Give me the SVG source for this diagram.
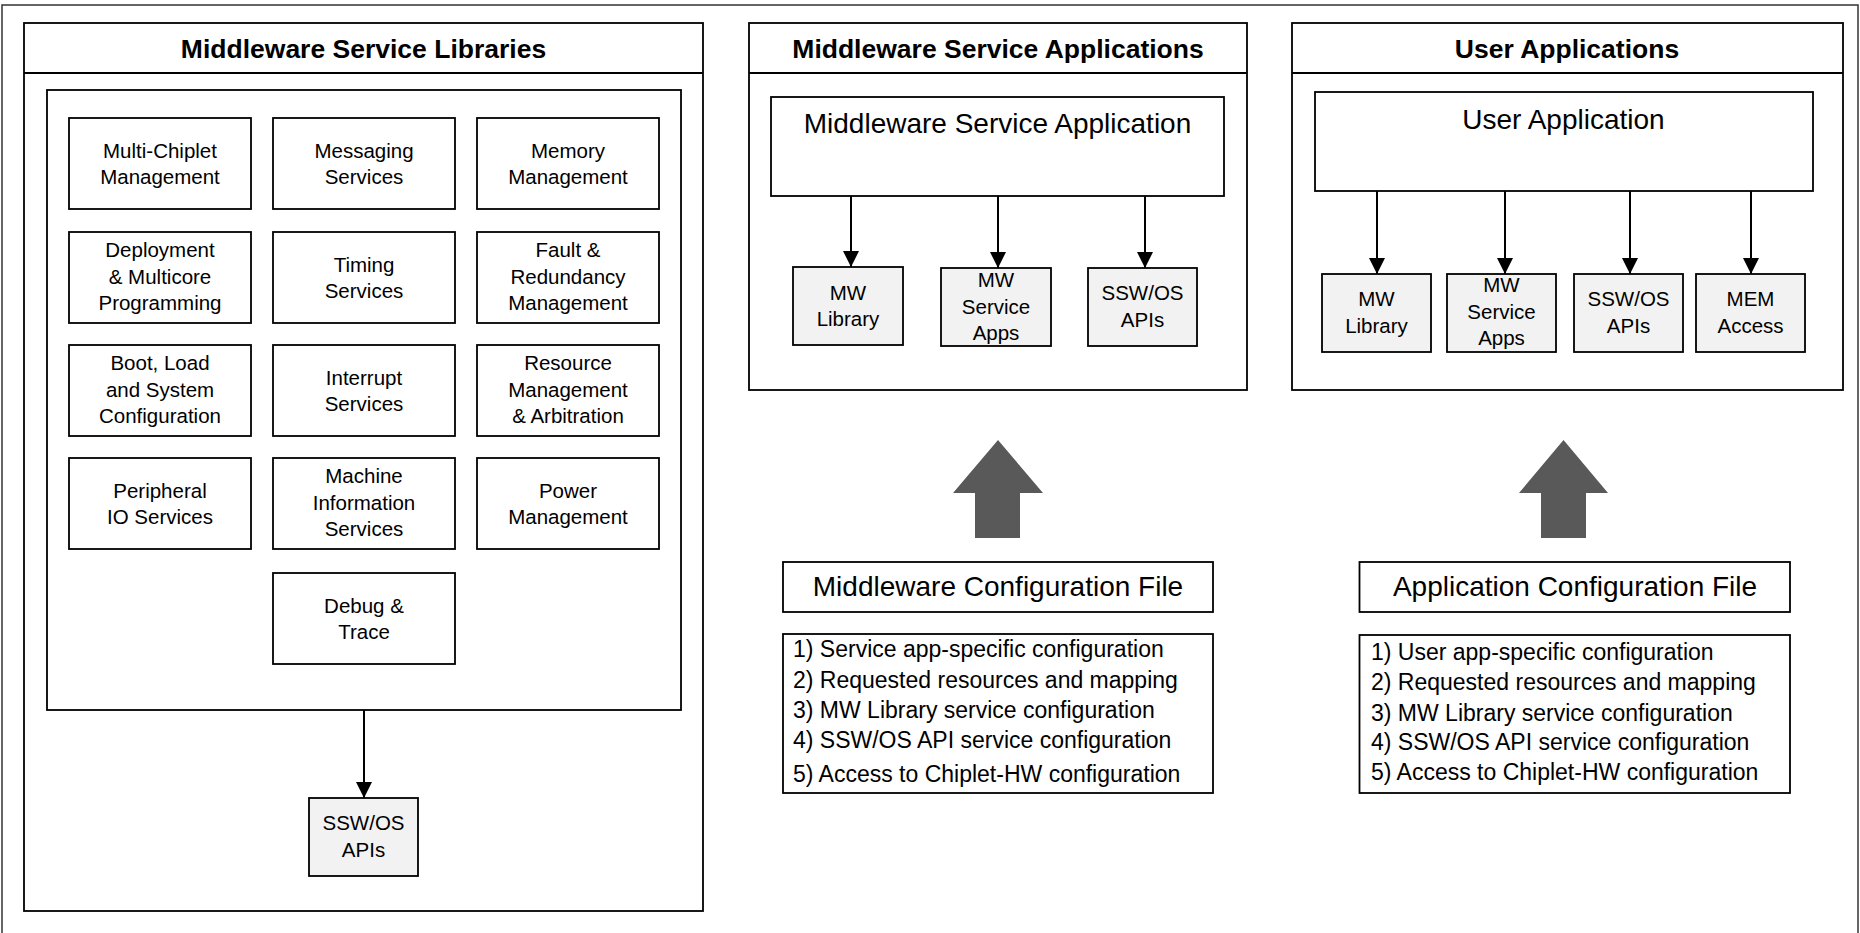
<svg xmlns="http://www.w3.org/2000/svg" width="1860" height="933" viewBox="0 0 1860 933">
<defs>
<style>
.frame{fill:none;stroke:#333;stroke-width:1.5}
.box{fill:#fff;stroke:#000;stroke-width:1.8}
.gbox{fill:#f2f2f2;stroke:#000;stroke-width:1.8}
.title{font-family:"Liberation Sans",Arial,sans-serif;font-weight:bold;font-size:26.5px;fill:#000;text-anchor:middle}
.big{font-family:"Liberation Sans",Arial,sans-serif;font-size:28px;fill:#000;text-anchor:middle}
.t{font-family:"Liberation Sans",Arial,sans-serif;font-size:20.5px;fill:#000;text-anchor:middle}
.list{font-family:"Liberation Sans",Arial,sans-serif;font-size:23px;fill:#000}
.conn{stroke:#000;stroke-width:2;fill:none}
.fat{fill:#595959}
</style>
<marker id="ah" markerWidth="16" markerHeight="16" refX="16" refY="8" orient="auto" markerUnits="userSpaceOnUse">
<path d="M0,0 L16,8 L0,16 z" fill="#000"/>
</marker>
</defs>
<rect x="0" y="0" width="1860" height="933" fill="#fff"/>
<rect class="frame" x="2" y="5" width="1856" height="935"/>

<!-- Panel 1 -->
<g id="panel-libraries">
<rect class="box" x="24" y="23" width="679" height="888"/>
<line x1="24" y1="73" x2="703" y2="73" stroke="#000" stroke-width="1.8"/>
<text class="title" x="363.5" y="57.5">Middleware Service Libraries</text>
<rect class="box" x="47" y="90" width="634" height="620"/>
</g>
<g id="lib-multichiplet"><rect class="box" x="69" y="118" width="182" height="91"/><text class="t" x="160" y="157.5">Multi-Chiplet</text><text class="t" x="160" y="184.2">Management</text></g>
<g id="lib-messaging"><rect class="box" x="273" y="118" width="182" height="91"/><text class="t" x="364" y="157.5">Messaging</text><text class="t" x="364" y="184.2">Services</text></g>
<g id="lib-memory"><rect class="box" x="477" y="118" width="182" height="91"/><text class="t" x="568" y="157.5">Memory</text><text class="t" x="568" y="184.2">Management</text></g>

<g id="lib-deployment"><rect class="box" x="69" y="232" width="182" height="91"/><text class="t" x="160" y="257">Deployment</text><text class="t" x="160" y="283.7">&amp; Multicore</text><text class="t" x="160" y="310.4">Programming</text></g>
<g id="lib-timing"><rect class="box" x="273" y="232" width="182" height="91"/><text class="t" x="364" y="271.5">Timing</text><text class="t" x="364" y="298.2">Services</text></g>
<g id="lib-fault"><rect class="box" x="477" y="232" width="182" height="91"/><text class="t" x="568" y="257">Fault &amp;</text><text class="t" x="568" y="283.7">Redundancy</text><text class="t" x="568" y="310.4">Management</text></g>

<g id="lib-boot"><rect class="box" x="69" y="345" width="182" height="91"/><text class="t" x="160" y="370">Boot, Load</text><text class="t" x="160" y="396.7">and System</text><text class="t" x="160" y="423.4">Configuration</text></g>
<g id="lib-interrupt"><rect class="box" x="273" y="345" width="182" height="91"/><text class="t" x="364" y="384.5">Interrupt</text><text class="t" x="364" y="411.2">Services</text></g>
<g id="lib-resource"><rect class="box" x="477" y="345" width="182" height="91"/><text class="t" x="568" y="370">Resource</text><text class="t" x="568" y="396.7">Management</text><text class="t" x="568" y="423.4">&amp; Arbitration</text></g>

<g id="lib-peripheral"><rect class="box" x="69" y="458" width="182" height="91"/><text class="t" x="160" y="497.5">Peripheral</text><text class="t" x="160" y="524.2">IO Services</text></g>
<g id="lib-machine"><rect class="box" x="273" y="458" width="182" height="91"/><text class="t" x="364" y="483">Machine</text><text class="t" x="364" y="509.7">Information</text><text class="t" x="364" y="536.4">Services</text></g>
<g id="lib-power"><rect class="box" x="477" y="458" width="182" height="91"/><text class="t" x="568" y="497.5">Power</text><text class="t" x="568" y="524.2">Management</text></g>

<g id="lib-debug"><rect class="box" x="273" y="573" width="182" height="91"/><text class="t" x="364" y="612.5">Debug &amp;</text><text class="t" x="364" y="639.2">Trace</text></g>

<g id="lib-sswos"><rect class="gbox" x="309" y="798" width="109" height="78"/><text class="t" x="363.5" y="830">SSW/OS</text><text class="t" x="363.5" y="856.7">APIs</text></g>

<!-- Panel 2 -->
<g id="panel-mw-apps">
<rect class="box" x="749" y="23" width="498" height="367"/>
<line x1="749" y1="73" x2="1247" y2="73" stroke="#000" stroke-width="1.8"/>
<text class="title" x="998" y="57.5">Middleware Service Applications</text>
</g>
<g id="mw-app"><rect class="box" x="771" y="97" width="453" height="99"/><text class="big" x="997.5" y="133">Middleware Service Application</text></g>
<g id="mw-lib"><rect class="gbox" x="793" y="267" width="110" height="78"/><text class="t" x="848" y="299.5">MW</text><text class="t" x="848" y="326.2">Library</text></g>
<g id="mw-svc"><rect class="gbox" x="941" y="268" width="110" height="78"/><text class="t" x="996" y="287">MW</text><text class="t" x="996" y="313.7">Service</text><text class="t" x="996" y="340.4">Apps</text></g>
<g id="mw-sswos"><rect class="gbox" x="1088" y="268" width="109" height="78"/><text class="t" x="1142.5" y="300">SSW/OS</text><text class="t" x="1142.5" y="326.7">APIs</text></g>

<!-- Panel 3 -->
<g id="panel-user-apps">
<rect class="box" x="1292" y="23" width="551" height="367"/>
<line x1="1292" y1="73" x2="1843" y2="73" stroke="#000" stroke-width="1.8"/>
<text class="title" x="1567" y="57.5">User Applications</text>
</g>
<g id="user-app"><rect class="box" x="1315" y="92" width="498" height="99"/><text class="big" x="1563.5" y="128.5">User Application</text></g>
<g id="ua-lib"><rect class="gbox" x="1322" y="274" width="109" height="78"/><text class="t" x="1376.5" y="306">MW</text><text class="t" x="1376.5" y="332.7">Library</text></g>
<g id="ua-svc"><rect class="gbox" x="1447" y="274" width="109" height="78"/><text class="t" x="1501.5" y="292">MW</text><text class="t" x="1501.5" y="318.7">Service</text><text class="t" x="1501.5" y="345.4">Apps</text></g>
<g id="ua-sswos"><rect class="gbox" x="1574" y="274" width="109" height="78"/><text class="t" x="1628.5" y="306">SSW/OS</text><text class="t" x="1628.5" y="332.7">APIs</text></g>
<g id="ua-mem"><rect class="gbox" x="1696" y="274" width="109" height="78"/><text class="t" x="1750.5" y="306">MEM</text><text class="t" x="1750.5" y="332.7">Access</text></g>

<!-- Config files -->
<g id="mw-config">
<polygon class="fat" points="998,440 1043,493 1020,493 1020,538 975,538 975,493 953,493"/>
<rect class="box" x="783" y="562" width="430" height="50"/>
<text class="big" x="998" y="595.5">Middleware Configuration File</text>
</g>
<g id="mw-config-list">
<rect class="box" x="783" y="634" width="430" height="159"/>
<text class="list" x="793" y="657">1) Service app-specific configuration</text>
<text class="list" x="793" y="687.5">2) Requested resources and mapping</text>
<text class="list" x="793" y="718.3">3) MW Library service configuration</text>
<text class="list" x="793" y="748.3">4) SSW/OS API service configuration</text>
<text class="list" x="793" y="781.7">5) Access to Chiplet-HW configuration</text>
</g>
<g id="app-config">
<polygon class="fat" points="1563.5,440 1608,493 1586,493 1586,538 1541,538 1541,493 1519,493"/>
<rect class="box" x="1359.5" y="562" width="430.5" height="50"/>
<text class="big" x="1575" y="595.5">Application Configuration File</text>
</g>
<g id="app-config-list">
<rect class="box" x="1359.5" y="635" width="430.5" height="158"/>
<text class="list" x="1371" y="660">1) User app-specific configuration</text>
<text class="list" x="1371" y="690">2) Requested resources and mapping</text>
<text class="list" x="1371" y="720.7">3) MW Library service configuration</text>
<text class="list" x="1371" y="750">4) SSW/OS API service configuration</text>
<text class="list" x="1371" y="780">5) Access to Chiplet-HW configuration</text>
</g>

<!-- Connectors -->
<g id="connectors">
<line class="conn" x1="364" y1="710" x2="364" y2="798" marker-end="url(#ah)"/>
<line class="conn" x1="851" y1="196" x2="851" y2="267" marker-end="url(#ah)"/>
<line class="conn" x1="998" y1="196" x2="998" y2="268" marker-end="url(#ah)"/>
<line class="conn" x1="1145" y1="196" x2="1145" y2="268" marker-end="url(#ah)"/>
<line class="conn" x1="1377" y1="191" x2="1377" y2="274" marker-end="url(#ah)"/>
<line class="conn" x1="1505" y1="191" x2="1505" y2="274" marker-end="url(#ah)"/>
<line class="conn" x1="1630" y1="191" x2="1630" y2="274" marker-end="url(#ah)"/>
<line class="conn" x1="1751" y1="191" x2="1751" y2="274" marker-end="url(#ah)"/>
</g>
</svg>
